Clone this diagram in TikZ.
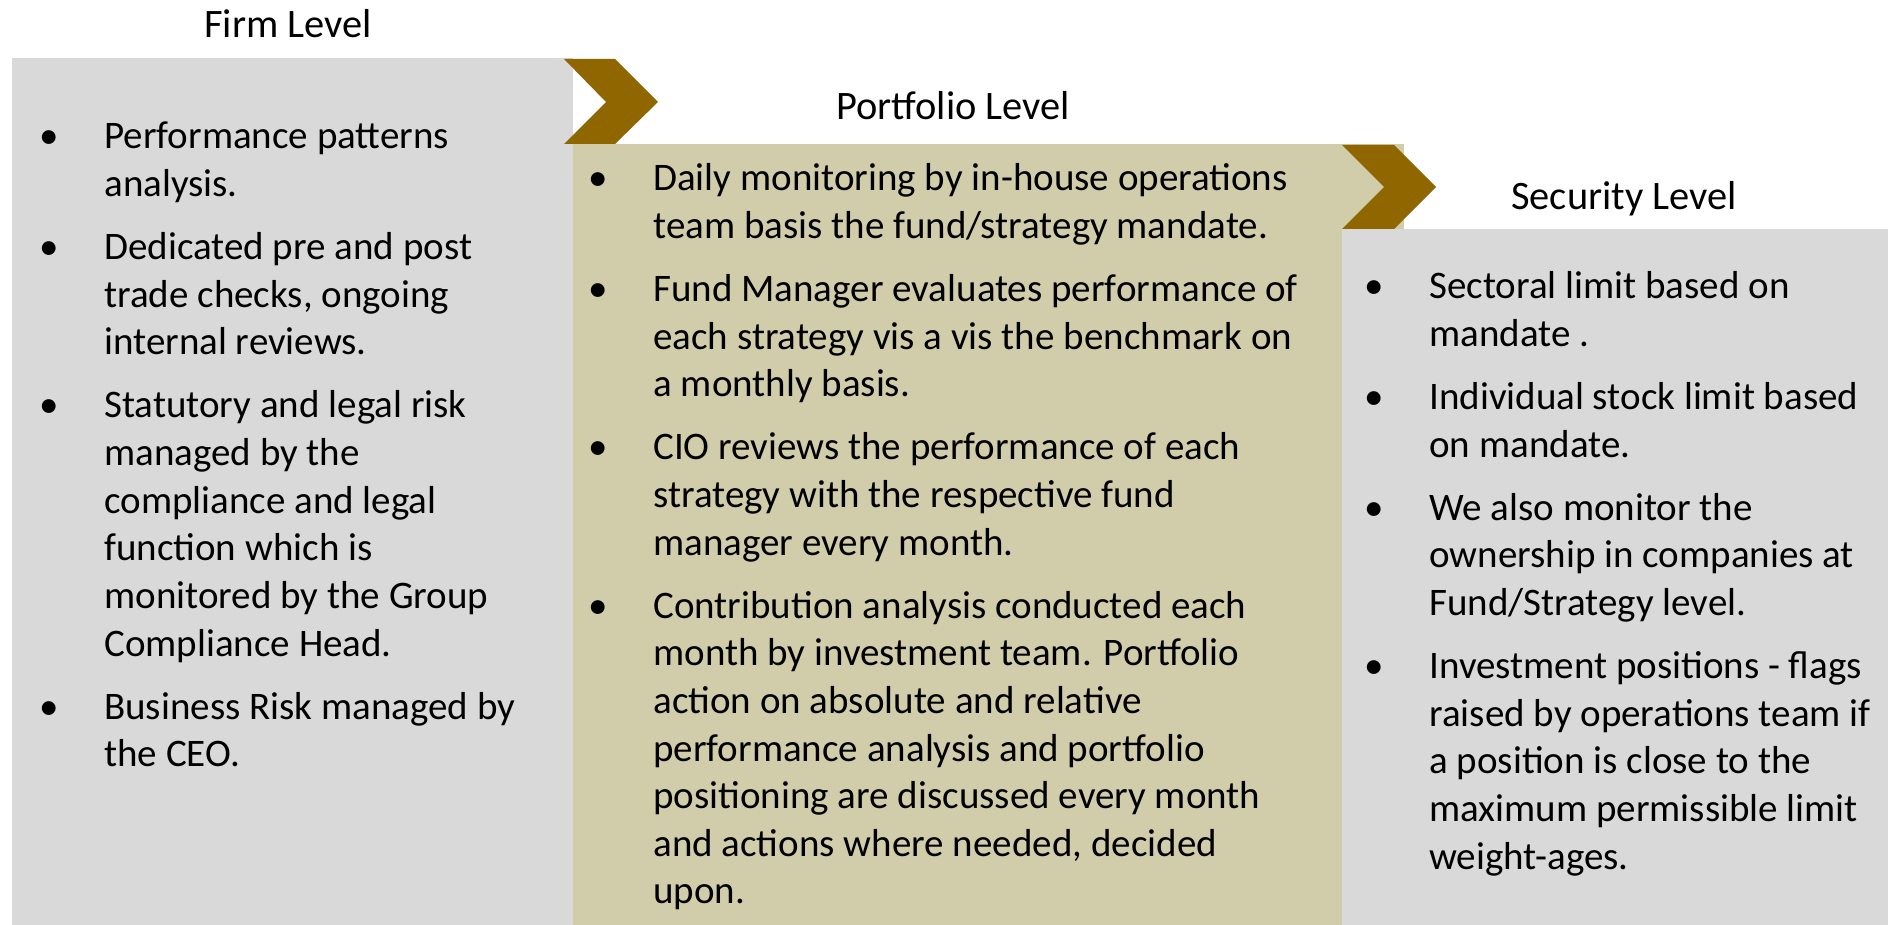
\documentclass[tikz,border=0pt]{standalone}
\usepackage{fontspec}
\setmainfont{Carlito}
\usetikzlibrary{positioning}
\definecolor{panelgray}{HTML}{D9D9D9}
\definecolor{paneltan}{HTML}{D1CDAA}
\definecolor{chevronbrown}{HTML}{8F6600}
\newcommand{\bp}{\makebox[2.2cm]{\textbullet}}

\begin{document}
\begin{tikzpicture}[x=0.02cm, y=-0.02cm,
  panel/.style={rectangle, draw=none, anchor=north west, inner sep=0pt},
  chevron/.style={fill=chevronbrown},
  heading/.style={anchor=base, inner sep=0pt, font=\fontsize{23}{28}\selectfont},
  itemlist/.style={anchor=base west, inner sep=0pt, font=\fontsize{22.2}{27.1}\selectfont}]

\useasboundingbox (0,0) rectangle (1888,925);

% Level panels
\node[panel, fill=panelgray, minimum width=11.22cm, minimum height=17.34cm] (firm) at (12,58) {};
\node[panel, fill=paneltan, minimum width=16.62cm, minimum height=15.62cm] (portfolio) at (573,144) {};
\node[panel, fill=panelgray, minimum width=10.92cm, minimum height=13.92cm] (security) at (1342,229) {};

% Chevrons between levels
\fill[chevron] (564,59) -- (615,59) -- (658,102) -- (615,144) -- (564,144) -- (606,102) -- cycle;
\fill[chevron] (1342,145) -- (1394,145) -- (1436,187) -- (1394,229) -- (1342,229) -- (1384,187) -- cycle;

% Headings
\node[heading] (firmtitle) at (288,38) {Firm Level};
\node[heading] (portfoliotitle) at (953,120) {Portfolio Level};
\node[heading] (securitytitle) at (1624,210) {Security Level};

% Bullet lists
\node[itemlist] (firmlist) at (-6,149) {\begin{tabular}[t]{@{}l@{}l@{}}
\bp & Performance patterns\\
    & analysis.\\[8.8pt]
\bp & Dedicated pre and post\\
    & trade checks, ongoing\\
    & internal reviews.\\[8.8pt]
\bp & Statutory and legal risk\\
    & managed by the\\
    & compliance and legal\\
    & function which is\\
    & monitored by the Group\\
    & Compliance Head.\\[8.8pt]
\bp & Business Risk managed by\\
    & the CEO.
\end{tabular}};

\node[itemlist] (portfoliolist) at (543,191) {\begin{tabular}[t]{@{}l@{}l@{}}
\bp & Daily monitoring by in-house operations\\
    & team basis the fund/strategy mandate.\\[8.8pt]
\bp & Fund Manager evaluates performance of\\
    & each strategy vis a vis the benchmark on\\
    & a monthly basis.\\[8.8pt]
\bp & CIO reviews the performance of each\\
    & strategy with the respective fund\\
    & manager every month.\\[8.8pt]
\bp & Contribution analysis conducted each\\
    & month by investment team. Portfolio\\
    & action on absolute and relative\\
    & performance analysis and portfolio\\
    & positioning are discussed every month\\
    & and actions where needed, decided\\
    & upon.
\end{tabular}};

\node[itemlist] (securitylist) at (1319,299) {\begin{tabular}[t]{@{}l@{}l@{}}
\bp & Sectoral limit based on\\
    & mandate .\\[8.8pt]
\bp & Individual stock limit based\\
    & on mandate.\\[8.8pt]
\bp & We also monitor the\\
    & ownership in companies at\\
    & Fund/Strategy level.\\[8.8pt]
\bp & Investment positions - flags\\
    & raised by operations team if\\
    & a position is close to the\\
    & maximum permissible limit\\
    & weight-ages.
\end{tabular}};

\end{tikzpicture}
\end{document}
